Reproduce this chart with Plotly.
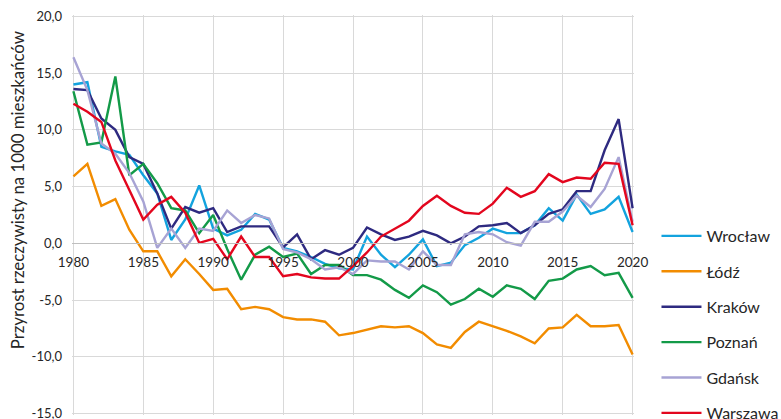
import plotly.graph_objects as go

years = list(range(1980, 2021))

wroclaw = [14.0, 14.2, 8.5, 8.1, 7.8, 6.0, 4.4, 0.3, 2.1, 5.1, 1.3, 0.7, 1.2, 2.6, 2.1,
           -0.4, -0.7, -1.2, -1.8, -2.2, -2.3, 0.6, -1.0, -2.1, -1.0, 0.35, -2.0, -1.7, -0.15,
           0.5, 1.3, 0.9, 0.9, 1.6, 3.1, 2.0, 4.3, 2.6, 3.0, 4.1, 1.0]
lodz = [5.9, 7.0, 3.3, 3.9, 1.2, -0.7, -0.7, -2.9, -1.4, -2.7, -4.1, -4.0, -5.8, -5.6, -5.8,
        -6.5, -6.7, -6.7, -6.9, -8.1, -7.9, -7.6, -7.3, -7.4, -7.3, -7.9, -8.9, -9.2, -7.8,
        -6.9, -7.3, -7.7, -8.2, -8.8, -7.5, -7.4, -6.3, -7.3, -7.3, -7.2, -9.8]
krakow = [13.6, 13.5, 11.0, 10.0, 7.6, 7.0, 4.4, 1.3, 3.2, 2.7, 3.1, 1.0, 1.5, 1.5, 1.5,
          -0.35, 0.8, -1.4, -0.6, -1.0, -0.4, 1.4, 0.8, 0.3, 0.6, 1.1, 0.7, 0.0, 0.6,
          1.5, 1.6, 1.8, 0.9, 1.6, 2.6, 3.0, 4.6, 4.6, 8.2, 10.95, 3.1]
poznan = [13.4, 8.7, 8.9, 14.7, 6.0, 7.0, 5.3, 3.1, 2.9, 0.9, 2.5, -0.5, -3.2, -1.0, -0.3,
          -1.2, -0.9, -2.7, -1.9, -1.9, -2.8, -2.8, -3.2, -4.1, -4.8, -3.7, -4.3, -5.4, -4.9,
          -4.0, -4.7, -3.7, -4.0, -4.9, -3.3, -3.1, -2.3, -2.0, -2.8, -2.6, -4.8]
gdansk = [16.4, 13.5, 8.8, 7.9, 6.2, 3.7, -0.4, 1.3, -0.4, 1.3, 1.1, 2.9, 1.8, 2.5, 2.2,
          -0.5, -0.8, -1.4, -2.3, -2.1, -2.7, -1.5, -1.6, -1.6, -2.3, -0.7, -1.9, -1.9, 0.8,
          1.0, 0.8, 0.1, -0.2, 1.9, 1.9, 2.8, 4.2, 3.2, 4.8, 7.6, 1.9]
warszawa = [12.3, 11.6, 10.7, 7.3, 4.7, 2.1, 3.4, 4.1, 2.7, 0.05, 0.4, -1.4, 0.6, -1.2, -1.2,
            -2.9, -2.7, -3.0, -3.1, -3.1, -2.0, -0.8, 0.6, 1.3, 2.0, 3.3, 4.2, 3.3, 2.7,
            2.6, 3.5, 4.9, 4.1, 4.6, 6.1, 5.4, 5.8, 5.7, 7.1, 7.0, 1.6]

names = ["Wrocław", "Łódź", "Kraków", "Poznań", "Gdańsk", "Warszawa"]
series = [wroclaw, lodz, krakow, poznan, gdansk, warszawa]
colors = ["#13A3DE", "#F28C00", "#2E2A80", "#139A48", "#A7A3D4", "#E3061E"]

ytick_vals = [-15, -10, -5, 0, 5, 10, 15, 20]
ytick_text = ["-15,0", "-10,0", "-5,0", "0,0", "5,0", "10,0", "15,0", "20,0"]
xtick_vals = [1980, 1985, 1990, 1995, 2000, 2005, 2010, 2015, 2020]

FONT = "Lato"
Y0, Y1 = -15.12, 20.12
X0, X1 = 1979.9, 2020.1

fig = go.Figure()
for nm, vals, col in zip(names, series, colors):
    fig.add_trace(go.Scatter(x=years, y=vals, name=nm, mode="lines",
                             line=dict(color=col, width=2.4), legendgroup=nm))

fig.update_layout(
    width=781, height=419,
    margin=dict(l=72, r=147, t=15, b=4, autoexpand=False),
    paper_bgcolor="white", plot_bgcolor="white",
    font=dict(family=FONT, color="#262626", size=13),
    showlegend=True,
    legend=dict(x=1.04, xanchor="left", y=0.49, yanchor="top",
                font=dict(family=FONT, size=16, color="#262626"),
                tracegroupgap=11.6, itemwidth=40, bgcolor="rgba(0,0,0,0)"),
    xaxis=dict(range=[X0, X1], tickvals=xtick_vals, ticktext=[str(v) for v in xtick_vals],
               showgrid=True, gridcolor="#D9D9D9", gridwidth=1,
               anchor="free", position=(0 - Y0) / (Y1 - Y0), showline=True, linecolor="#BFBFBF",
               linewidth=1, ticks="", zeroline=False, ticklabeloverflow="allow",
               ticklabelstandoff=6,
               tickfont=dict(family=FONT, size=13.5, color="#262626")),
    yaxis=dict(range=[Y0, Y1], tickvals=ytick_vals, ticktext=ytick_text,
               showgrid=True, gridcolor="#D9D9D9", gridwidth=1,
               zeroline=False, showline=False, ticks="",
               ticklabelstandoff=9, ticklabeloverflow="allow",
               tickfont=dict(family=FONT, size=13, color="#262626")),
    annotations=[dict(text="Przyrost rzeczywisty na 1000 mieszkańców", textangle=-90,
                      xref="paper", yref="paper", x=-0.097, y=0.563,
                      xanchor="center", yanchor="middle", showarrow=False,
                      font=dict(family=FONT, size=16.8, color="#262626"))],
)

fig.write_html("out.html", config={"displayModeBar": False},
               post_script="document.body.style.margin='0';document.body.style.padding='0';")
